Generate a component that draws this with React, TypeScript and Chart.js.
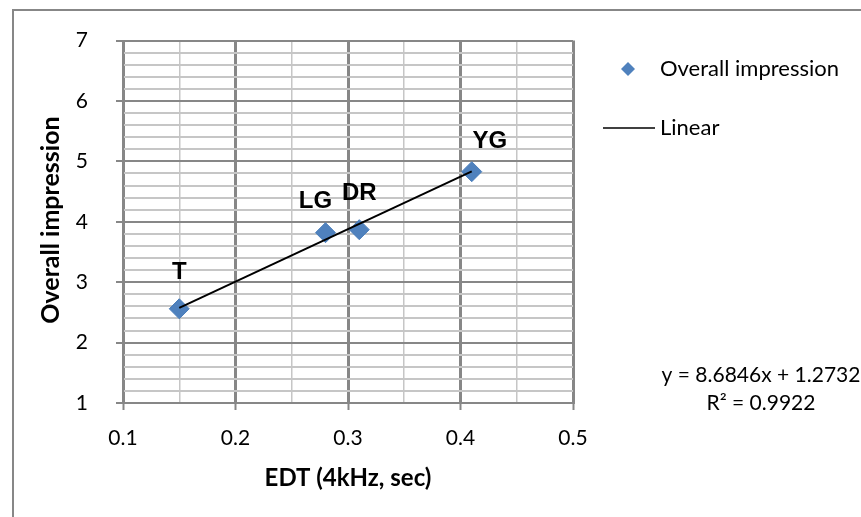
import React, { useEffect, useRef } from "react";
import { Chart, registerables } from "chart.js";

Chart.register(...registerables);

// ---- data ----
const SITE_LABELS = ["T", "LG", "DR", "YG"];
const EDT_4KHZ = [0.15, 0.28, 0.31, 0.41];
const OVERALL_IMPRESSION = [2.56, 3.82, 3.87, 4.83];
const TREND_SLOPE = 8.6846;
const TREND_INTERCEPT = 1.2732;
const R_SQUARED = 0.9922;
const X_MAJOR_TICKS = [0.1, 0.2, 0.3, 0.4, 0.5];
const Y_MAJOR_TICKS = [1, 2, 3, 4, 5, 6, 7];
const SERIES_NAME = "Overall impression";
const TREND_NAME = "Linear";
const X_TITLE = "EDT (4kHz, sec)";
const Y_TITLE = "Overall impression";

// ---- styling ----
const TICK_FONT = "Lato";
const LABEL_FONT = "Liberation Sans";
const MARKER_COLOR = "#4f81bd";
const MAJOR_GRID = "#878787";
const MINOR_GRID = "#c6c6c6";
const LABEL_OFFSETS: Record<string, [number, number]> = {
  T: [0, -36],
  LG: [-10, -31],
  DR: [0, -36],
  YG: [18, -30],
};

const isMajor = (v: number, list: number[]) =>
  list.some((t) => Math.abs(t - v) < 1e-6);

const trendXs = [Math.min(...EDT_4KHZ), Math.max(...EDT_4KHZ)];

const decorPlugin = {
  id: "decor",
  beforeDraw(chart: any) {
    const ctx = chart.ctx;
    ctx.save();
    ctx.fillStyle = "#ffffff";
    ctx.fillRect(0, 0, chart.width, chart.height);
    ctx.strokeStyle = "#878787";
    ctx.lineWidth = 2;
    ctx.beginPath();
    ctx.moveTo(13, chart.height + 5);
    ctx.lineTo(13, 10);
    ctx.lineTo(chart.width + 5, 10);
    ctx.stroke();
    ctx.restore();
  },
  afterDraw(chart: any) {
    const ctx = chart.ctx;
    const ca = chart.chartArea;
    ctx.save();
    // data labels
    const meta = chart.getDatasetMeta(1);
    ctx.fillStyle = "#000";
    ctx.font = `bold 24px "${LABEL_FONT}"`;
    ctx.textAlign = "center";
    ctx.textBaseline = "middle";
    meta.data.forEach((pt: any, i: number) => {
      const name = SITE_LABELS[i];
      const off = LABEL_OFFSETS[name] || [0, -32];
      ctx.fillText(name, pt.x + off[0], pt.y + off[1]);
    });

    // axis titles
    ctx.font = `bold 24px "${TICK_FONT}"`;
    ctx.fillText(X_TITLE, (ca.left + ca.right) / 2, 478);
    ctx.save();
    ctx.font = `bold 25px "${TICK_FONT}"`;
    ctx.translate(51, 220);
    ctx.rotate(-Math.PI / 2);
    ctx.fillText(Y_TITLE, 0, 0);
    ctx.restore();

    // legend
    ctx.fillStyle = MARKER_COLOR;
    ctx.beginPath();
    const lx = 628, ly = 69, r = 7;
    ctx.moveTo(lx, ly - r);
    ctx.lineTo(lx + r, ly);
    ctx.lineTo(lx, ly + r);
    ctx.lineTo(lx - r, ly);
    ctx.closePath();
    ctx.fill();
    ctx.strokeStyle = "#000";
    ctx.lineWidth = 1.5;
    ctx.beginPath();
    ctx.moveTo(603, 128);
    ctx.lineTo(655, 128);
    ctx.stroke();
    ctx.fillStyle = "#000";
    ctx.font = `22px "${TICK_FONT}"`;
    ctx.textAlign = "left";
    ctx.fillText(SERIES_NAME, 660, 69);
    ctx.fillText(TREND_NAME, 660, 128);

    // equation
    ctx.font = `21px "${TICK_FONT}"`;
    ctx.textAlign = "center";
    ctx.fillText(`y = ${TREND_SLOPE}x + ${TREND_INTERCEPT}`, 761, 375);
    ctx.fillText(`R² = ${R_SQUARED}`, 761, 403);
    ctx.restore();
  },
};

export default function App() {
  const ref = useRef<HTMLCanvasElement | null>(null);
  useEffect(() => {
    if (!ref.current) return;
    const chart = new Chart(ref.current, {
      type: "scatter",
      data: {
        datasets: [
          {
            label: TREND_NAME,
            data: trendXs.map((x) => ({ x, y: TREND_SLOPE * x + TREND_INTERCEPT })),
            showLine: true,
            borderColor: "#000",
            borderWidth: 2,
            pointRadius: 0,
            fill: false,
          } as any,
          {
            label: SERIES_NAME,
            data: EDT_4KHZ.map((x, i) => ({ x, y: OVERALL_IMPRESSION[i] })),
            pointStyle: "rectRot",
            pointRadius: 10,
            backgroundColor: MARKER_COLOR,
            borderColor: "#4a7ebb",
            borderWidth: 1,
          },
        ],
      },
      options: {
        animation: false,
        responsive: false,
        layout: { padding: { left: 0, top: 40, right: 288, bottom: 0 } },
        plugins: { legend: { display: false }, tooltip: { enabled: false } },
        scales: {
          x: {
            type: "linear",
            min: 0.1,
            max: 0.5,
            afterFit: (s: any) => { s.height = 114; },
            ticks: {
              stepSize: 0.05,
              padding: 16,
              color: "#000",
              font: { family: TICK_FONT, size: 21 },
              maxRotation: 0,
              autoSkip: false,
              callback: (v: any) => (isMajor(Number(v), X_MAJOR_TICKS) ? Number(v).toFixed(1) : ""),
            },
            grid: {
              color: (c: any) => (c.tick && isMajor(c.tick.value, X_MAJOR_TICKS) ? MAJOR_GRID : MINOR_GRID),
              lineWidth: (c: any) => (c.tick && isMajor(c.tick.value, X_MAJOR_TICKS) ? 3 : 1.5),
              tickColor: (c: any) => (c.tick && isMajor(c.tick.value, X_MAJOR_TICKS) ? MAJOR_GRID : "rgba(0,0,0,0)"),
              tickWidth: 2,
              tickLength: 7,
            },
            border: { display: true, color: MAJOR_GRID, width: 2 },
          },
          y: {
            type: "linear",
            min: 1,
            max: 7,
            afterFit: (s: any) => { s.width = 123; },
            ticks: {
              stepSize: 0.2,
              padding: 28,
              color: "#000",
              font: { family: TICK_FONT, size: 21 },
              autoSkip: false,
              callback: (v: any) => (isMajor(Number(v), Y_MAJOR_TICKS) ? String(Math.round(Number(v))) : ""),
            },
            grid: {
              color: (c: any) => (c.tick && isMajor(c.tick.value, Y_MAJOR_TICKS) ? MAJOR_GRID : MINOR_GRID),
              lineWidth: 2,
              tickColor: (c: any) => (c.tick && isMajor(c.tick.value, Y_MAJOR_TICKS) ? MAJOR_GRID : "rgba(0,0,0,0)"),
              tickWidth: 2,
              tickLength: 7,
            },
            border: { display: true, color: MAJOR_GRID, width: 2 },
          },
        },
      },
      plugins: [decorPlugin],
    });
    return () => chart.destroy();
  }, []);
  return (
    <div style={{ position: "absolute", left: 0, top: 0, width: 861, height: 517 }}>
      <canvas ref={ref} width={861} height={517} style={{ width: 861, height: 517, display: "block" }} />
    </div>
  );
}
